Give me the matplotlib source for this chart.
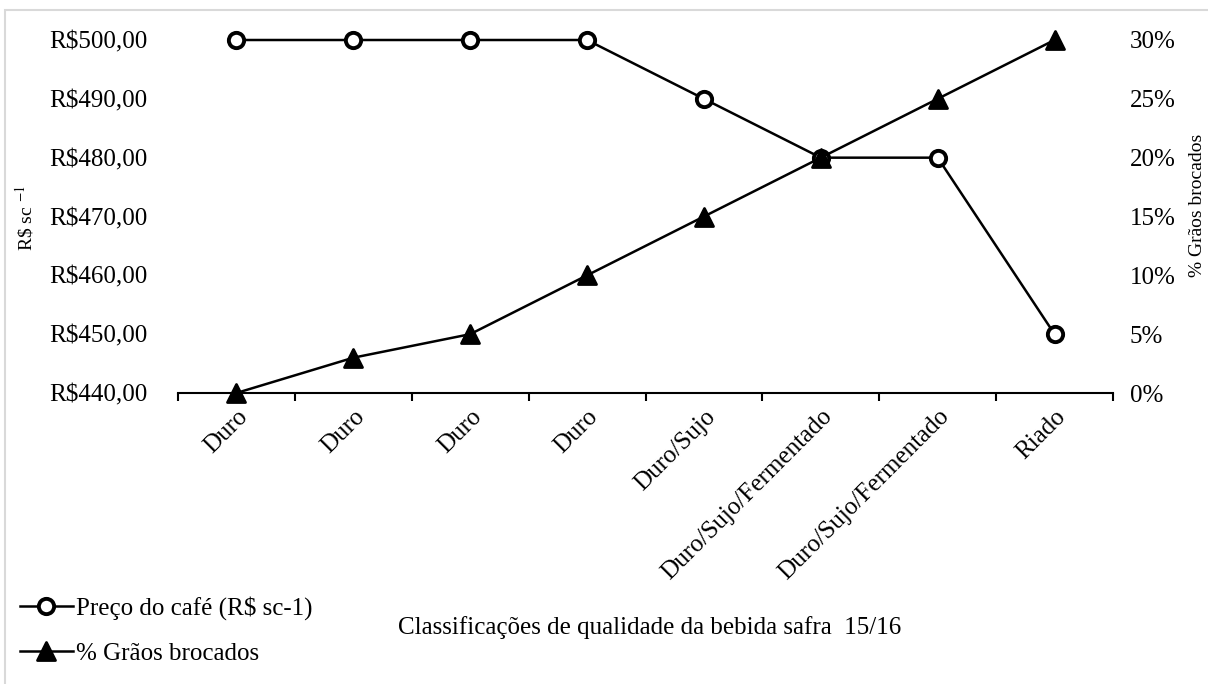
import matplotlib.pyplot as plt
from matplotlib.patches import Rectangle
from matplotlib.markers import MarkerStyle
from matplotlib.ticker import FuncFormatter, FixedLocator
import matplotlib.transforms as mtransforms

plt.rcParams['font.family'] = ['Liberation Serif', 'DejaVu Serif']
plt.rcParams['mathtext.fontset'] = 'stix'

# dados
categorias = ['Duro', 'Duro', 'Duro', 'Duro', 'Duro/Sujo',
              'Duro/Sujo/Fermentado', 'Duro/Sujo/Fermentado', 'Riado']
preco = [500, 500, 500, 500, 490, 480, 480, 450]
brocados = [0.00, 0.03, 0.05, 0.10, 0.15, 0.20, 0.25, 0.30]
ticks_preco = [440, 450, 460, 470, 480, 490, 500]
ticks_pct = [0.00, 0.05, 0.10, 0.15, 0.20, 0.25, 0.30]

W, H = 1208, 684
fig = plt.figure(figsize=(W / 100, H / 100), dpi=100)
ax = fig.add_axes([178 / W, 1 - 393 / H, (1113 - 178) / W, (393 - 40) / H])
ax2 = ax.twinx()

x = list(range(len(categorias)))
l1, = ax.plot(x, preco, color='black', lw=1.8, marker='o', markersize=11,
              markerfacecolor='white', markeredgecolor='black', markeredgewidth=2.8,
              label='Preço do café (R$ sc-1)', zorder=3, clip_on=False)
l2, = ax2.plot(x, brocados, color='black', lw=1.8, marker=MarkerStyle('^', joinstyle='round'),
               markersize=13, markerfacecolor='black', markeredgecolor='black',
               markeredgewidth=2, label='% Grãos brocados', zorder=4, clip_on=False)

ax.set_xlim(-0.5, len(categorias) - 0.5)
ax.set_ylim(440, 500)
ax2.set_ylim(0, 0.30)
ax.set_yticks(ticks_preco)
ax2.set_yticks(ticks_pct)
ax.yaxis.set_major_formatter(FuncFormatter(lambda v, p: f'R${v:.2f}'.replace('.', ',')))
ax2.yaxis.set_major_formatter(FuncFormatter(lambda v, p: f'{v * 100:.0f}%'))

ax.set_xticks(x)
ax.set_xticklabels(categorias, rotation=45, ha='right', rotation_mode='anchor')
# desloca os rótulos um pouco para a direita
desloc = mtransforms.ScaledTranslation(7 / 100, 0, fig.dpi_scale_trans)
for lab in ax.get_xticklabels():
    lab.set_transform(lab.get_transform() + desloc)
ax.xaxis.set_minor_locator(FixedLocator([i - 0.5 for i in range(len(categorias) + 1)]))
ax.tick_params(axis='x', which='major', length=0, pad=9, labelsize=18)
ax.tick_params(axis='x', which='minor', length=6, width=1.5, direction='out')
ax.tick_params(axis='y', length=0, pad=22, labelsize=18)
ax2.tick_params(axis='y', length=0, pad=12, labelsize=18)

for a in (ax, ax2):
    for s in ('top', 'left', 'right'):
        a.spines[s].set_visible(False)
ax.spines['bottom'].set_linewidth(1.5)
ax2.spines['bottom'].set_visible(False)

fig.text(25 / W, 1 - 218 / H, r'R\$ sc $^{-1}$', rotation=90, ha='center', va='center', fontsize=14)
fig.text(1197 / W, 1 - 205 / H, '% Grãos brocados', rotation=90, ha='center', va='center', fontsize=14)
fig.text(650 / W, 1 - 628 / H, 'Classificações de qualidade da bebida safra  15/16',
         ha='center', va='center', fontsize=18)

fig.legend(handles=[l1, l2], loc='upper left', bbox_to_anchor=(20 / W, 1 - 596 / H),
           frameon=False, fontsize=18, handlelength=2.1, handletextpad=0.15,
           borderpad=0, borderaxespad=0, labelspacing=0.9)

fig.patches.append(Rectangle((5 / W, -0.01), 1.02, 1 - 10 / H + 0.01, transform=fig.transFigure,
                             fill=False, edgecolor='#d9d9d9', lw=1.5))

fig.savefig('out.png', dpi=100)
